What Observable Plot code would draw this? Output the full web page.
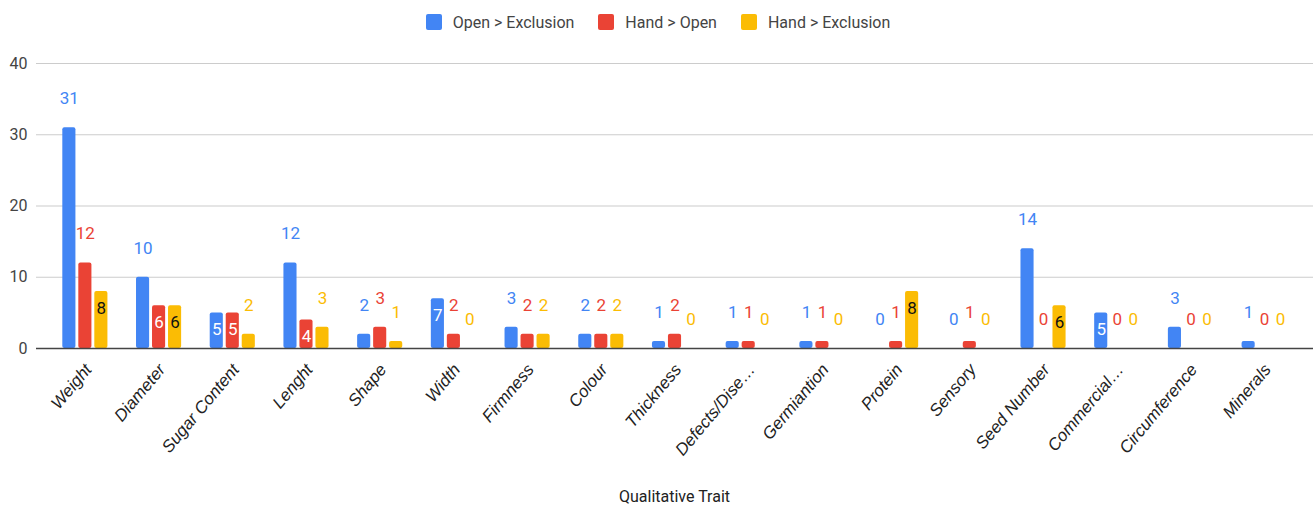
<!DOCTYPE html>
<html><head><meta charset="utf-8">
<script src="https://cdn.jsdelivr.net/npm/d3@7"></script>
<script src="https://cdn.jsdelivr.net/npm/@observablehq/plot@0.6"></script>
<style>
html,body{margin:0;padding:0;background:#fff;}
body{font-family:Roboto,"Liberation Sans",sans-serif;width:1316px;height:511px;overflow:hidden;}
#legend{height:44px;display:flex;justify-content:center;align-items:center;gap:24px;font-size:16px;color:#444;}
#legend .item{display:flex;align-items:center;gap:11px;}
#legend .sw{width:16px;height:16px;border-radius:2px;}
#caption{height:26px;line-height:26px;text-align:center;font-size:16px;color:#222;padding-left:36px;padding-right:3px;}
</style></head><body>
<div id="legend"></div>
<div id="chart"></div>
<div id="caption"></div>
<script>
const categories = ["Weight","Diameter","Sugar Content","Lenght","Shape","Width","Firmness","Colour","Thickness","Defects/Dise…","Germiantion","Protein","Sensory","Seed Number","Commercial…","Circumference","Minerals"];
const seriesNames = ["Open > Exclusion","Hand > Open","Hand > Exclusion"];
const seriesColors = ["#4285F4","#EA4335","#FBBC04"];
const openExclusion = [31,10,5,12,2,7,3,2,1,1,1,0,0,14,5,3,1];
const handOpen = [12,6,5,4,3,2,2,2,2,1,1,1,1,0,0,0,0];
const handExclusion = [8,6,2,3,1,0,2,2,0,0,0,8,0,6,0,0,0];
const yTicks = [0,10,20,30,40];
const xTitle = "Qualitative Trait";

const seriesValues = [openExclusion, handOpen, handExclusion];
const insideColors = ["#fff","#fff","#111"];

// legend
const legend = document.getElementById("legend");
seriesNames.forEach((n,i)=>{
  const it = document.createElement("div"); it.className="item";
  const sw = document.createElement("div"); sw.className="sw"; sw.style.background=seriesColors[i];
  const tx = document.createElement("span"); tx.textContent=n;
  it.appendChild(sw); it.appendChild(tx); legend.appendChild(it);
});
document.getElementById("caption").textContent = xTitle;

const inside = v => v >= 4 && v <= 8;
const gap = 16;
const marks = [
  Plot.ruleY(yTicks.filter(t=>t>0), {stroke:"#ccc", strokeWidth:1.2})
];
seriesValues.forEach((vals,i)=>{
  const data = categories.map((c,k)=>({cat:c, v:vals[k]}));
  marks.push(Plot.barY(data.filter(d=>d.v>0), {x:"cat", y:"v", fill:seriesColors[i], insetLeft:i*gap, insetRight:(2-i)*gap, rx:2}));
});
marks.push(Plot.ruleY([0], {stroke:"#444", strokeWidth:1.5}));
seriesValues.forEach((vals,i)=>{
  const data = categories.map((c,k)=>({cat:c, v:vals[k]}));
  marks.push(Plot.text(data.filter(d=>!inside(d.v)), {x:"cat", y:"v", text:d=>String(d.v), dx:(i-1)*gap, dy:-29, fill:seriesColors[i], fontSize:17}));
  marks.push(Plot.text(data.filter(d=>inside(d.v)), {x:"cat", y:"v", text:d=>String(d.v), dx:(i-1)*gap, dy:17, fill:insideColors[i], fontSize:17}));
});
marks.push(Plot.axisY({ticks:yTicks, tickSize:0, tickPadding:9, fontSize:16, label:null, color:"#444"}));
marks.push(Plot.axisX({tickRotate:-50, tickSize:0, tickPadding:18, dx:3, fontSize:17, fontStyle:"italic", fontFamily:"'Liberation Sans', Arial, sans-serif", label:null, color:"#222"}));

const chart = Plot.plot({
  width:1316, height:440,
  marginLeft:36, marginRight:3, marginTop:19, marginBottom:136,
  style:{fontFamily:"Roboto, 'Liberation Sans', sans-serif", background:"#fff"},
  x:{type:"band", domain:categories, paddingInner:0.388, paddingOuter:0.357, round:false, label:null},
  y:{domain:[0,40], label:null},
  marks
});
document.getElementById("chart").appendChild(chart);
</script>
</body></html>
